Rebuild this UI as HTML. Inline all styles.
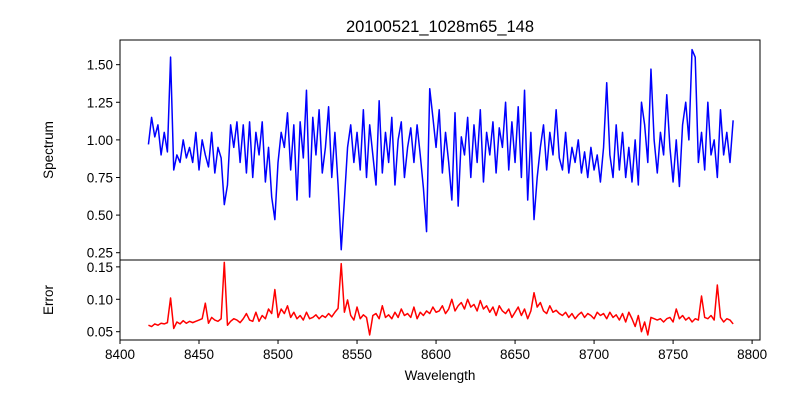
<!DOCTYPE html>
<html><head><meta charset="utf-8"><style>
body{margin:0;background:#fff}
svg{display:block;font-family:"Liberation Sans","DejaVu Sans",sans-serif}
</style></head><body>
<svg id="c" width="800" height="400">
<rect width="800" height="400" fill="#fff"/>
<text x="440" y="32" text-anchor="middle" font-size="16.5">20100521_1028m65_148</text>
<text transform="translate(53,150) rotate(-90)" text-anchor="middle" font-size="13.5">Spectrum</text>
<text transform="translate(53,300) rotate(-90)" text-anchor="middle" font-size="13.5">Error</text>
<text x="440" y="380" text-anchor="middle" font-size="13.5">Wavelength</text>
</svg>
<script>
const wStart = 8418, wStep = 2;
const spectrum = [
0.97,1.15,1.02,1.10,0.90,1.05,0.92,1.55,0.80,0.90,
0.85,1.00,0.88,0.95,0.85,1.05,0.80,1.00,0.90,0.82,
1.05,0.78,0.95,0.88,0.57,0.70,1.10,0.95,1.12,0.85,
1.10,0.78,1.12,0.75,1.05,0.90,1.12,0.72,0.95,0.62,
0.47,0.85,1.05,0.95,1.18,0.80,1.10,0.60,1.12,0.88,
1.33,0.62,1.15,0.90,1.20,0.78,0.95,1.22,0.75,1.05,
0.70,0.27,0.60,0.95,1.10,0.85,1.05,0.80,1.20,0.75,
1.10,0.90,0.70,1.26,0.78,1.05,0.85,1.15,0.70,1.00,
1.12,0.75,0.95,1.08,0.85,1.10,0.90,0.68,0.39,1.34,
1.15,0.95,1.20,0.78,1.05,0.85,0.60,1.18,0.56,1.02,
0.90,1.15,0.75,1.10,0.85,1.20,0.72,1.05,0.90,1.12,
0.78,1.08,0.95,1.25,0.80,1.12,0.85,1.22,0.75,1.33,
0.60,1.05,0.47,0.75,0.95,1.10,0.80,1.05,0.90,1.20,
0.88,0.80,1.05,0.78,0.95,0.85,1.00,0.78,0.92,0.75,
0.95,0.80,0.90,0.72,0.95,1.38,0.90,0.75,1.10,0.80,
1.05,0.75,0.95,0.72,1.00,0.70,1.25,1.10,0.85,1.47,
1.00,0.78,1.05,0.90,1.30,0.95,0.72,1.00,0.69,1.10,
1.25,1.00,1.60,1.55,0.85,1.05,0.80,1.25,0.90,1.00,
0.75,1.20,0.90,1.05,0.85,1.13];
const errorVals = [
0.060,0.058,0.062,0.060,0.063,0.062,0.064,0.102,0.055,0.065,
0.062,0.067,0.063,0.066,0.064,0.066,0.068,0.070,0.094,0.063,
0.072,0.068,0.066,0.070,0.157,0.060,0.066,0.070,0.068,0.064,
0.070,0.078,0.068,0.066,0.080,0.066,0.075,0.070,0.085,0.078,
0.115,0.072,0.085,0.078,0.090,0.072,0.080,0.070,0.075,0.068,
0.080,0.070,0.072,0.076,0.070,0.075,0.072,0.078,0.073,0.080,
0.086,0.155,0.080,0.099,0.075,0.068,0.088,0.070,0.076,0.072,
0.045,0.075,0.078,0.070,0.090,0.072,0.076,0.070,0.080,0.072,
0.085,0.075,0.078,0.072,0.088,0.070,0.080,0.075,0.082,0.078,
0.088,0.080,0.082,0.090,0.078,0.085,0.100,0.082,0.090,0.095,
0.085,0.100,0.088,0.092,0.082,0.098,0.085,0.090,0.080,0.088,
0.075,0.090,0.082,0.078,0.085,0.072,0.080,0.088,0.075,0.085,
0.070,0.082,0.110,0.088,0.095,0.082,0.078,0.090,0.080,0.083,
0.078,0.075,0.080,0.072,0.078,0.070,0.076,0.080,0.072,0.078,
0.075,0.070,0.080,0.075,0.078,0.070,0.080,0.072,0.076,0.068,
0.078,0.065,0.080,0.070,0.058,0.075,0.050,0.065,0.045,0.072,
0.070,0.068,0.070,0.065,0.070,0.072,0.065,0.085,0.070,0.075,
0.068,0.072,0.065,0.070,0.068,0.105,0.072,0.070,0.075,0.068,
0.122,0.072,0.065,0.070,0.068,0.062];
const xTicks = [8400,8450,8500,8550,8600,8650,8700,8750,8800];
const specTicks = [0.25,0.50,0.75,1.00,1.25,1.50];
const errTicks = [0.05,0.10,0.15];

const NS='http://www.w3.org/2000/svg';
const svg=document.getElementById('c');
const L=120,R=760,T1=40,B1=260,T2=260,B2=340;
const xMin=8400,xMax=8805;
const sx=w=>L+(w-xMin)/(xMax-xMin)*(R-L);
const s1Min=0.2015,s1Max=1.664;
const sy1=v=>B1-(v-s1Min)/(s1Max-s1Min)*(B1-T1);
const s2Min=0.0372,s2Max=0.1606;
const sy2=v=>B2-(v-s2Min)/(s2Max-s2Min)*(B2-T2);
function mk(t,a){const e=document.createElementNS(NS,t);for(const k in a)e.setAttribute(k,a[k]);svg.appendChild(e);return e;}

function series(vals,sy,color,name){
  const d=vals.map((v,i)=>(i?'L':'M')+sx(wStart+i*wStep).toFixed(2)+' '+sy(v).toFixed(2)).join(' ');
  const p=mk('path',{d:d,fill:'none',stroke:color,'stroke-width':1.5,'stroke-linejoin':'round'});
  
  
}
series(spectrum,sy1,'#0000ff','spectrum-line');
series(errorVals,sy2,'#ff0000','error-line');

const f1=mk('rect',{x:L,y:T1,width:R-L,height:B1-T1,fill:'none',stroke:'#000','stroke-width':1});


const f2=mk('rect',{x:L,y:T2,width:R-L,height:B2-T2,fill:'none',stroke:'#000','stroke-width':1});



xTicks.forEach(w=>{
  const x=sx(w);
  const t=mk('line',{x1:x,x2:x,y1:B2,y2:B2+4,stroke:'#000'});
  
  
  const l=mk('text',{x:x,y:B2+19,'text-anchor':'middle','font-size':13.5});
  l.textContent=w;
  
  
});
specTicks.forEach(v=>{
  const y=sy1(v);
  const t=mk('line',{x1:L-4,x2:L,y1:y,y2:y,stroke:'#000'});
  
  
  const l=mk('text',{x:L-7,y:y+5,'text-anchor':'end','font-size':13.5});
  l.textContent=v.toFixed(2);
  
  
});
errTicks.forEach(v=>{
  const y=sy2(v);
  const t=mk('line',{x1:L-4,x2:L,y1:y,y2:y,stroke:'#000'});
  
  
  const l=mk('text',{x:L-7,y:y+5,'text-anchor':'end','font-size':13.5});
  l.textContent=v.toFixed(2);
  
  
});
</script>
</body></html>
